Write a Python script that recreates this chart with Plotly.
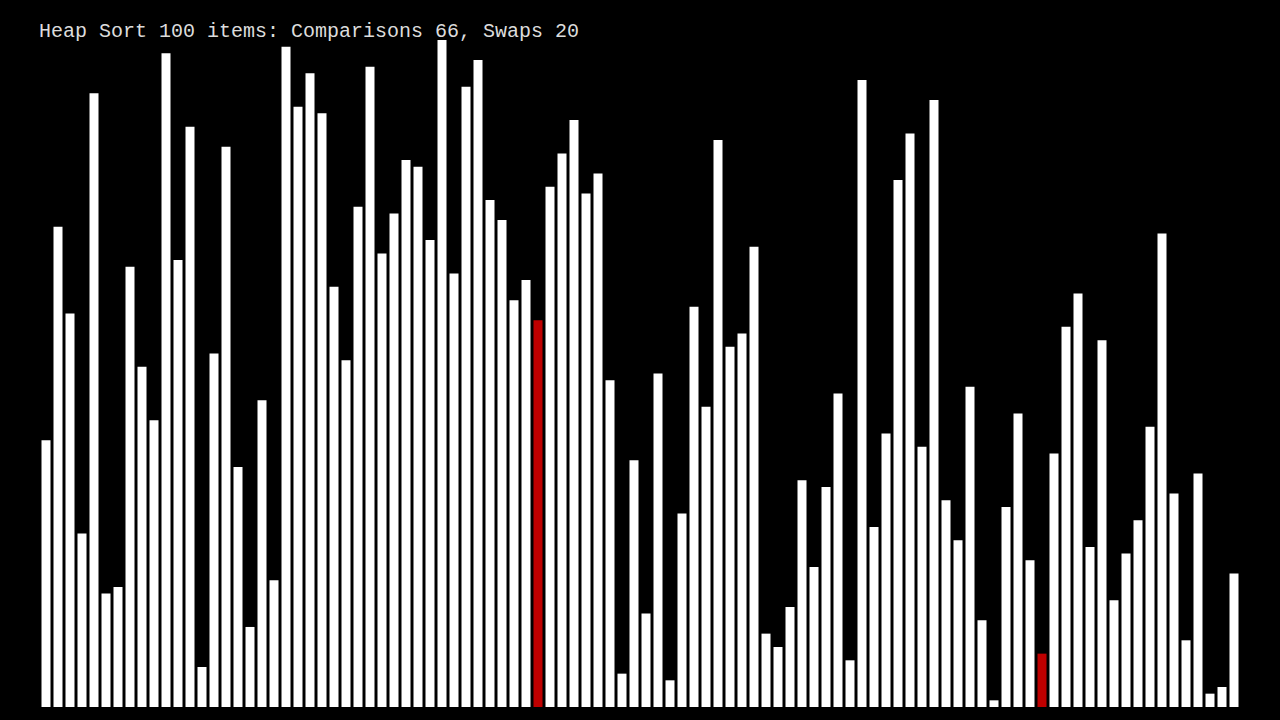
import plotly.graph_objects as go

title_text = "Heap Sort 100 items: Comparisons 66, Swaps 20"

values = [
    40, 72, 59, 26, 92, 17, 18, 66, 51, 43,
    98, 67, 87, 6, 53, 84, 36, 12, 46, 19,
    99, 90, 95, 89, 63, 52, 75, 96, 68, 74,
    82, 81, 70, 100, 65, 93, 97, 76, 73, 61,
    64, 58, 78, 83, 88, 77, 80, 49, 5, 37,
    14, 50, 4, 29, 60, 45, 85, 54, 56, 69,
    11, 9, 15, 34, 21, 33, 47, 7, 94, 27,
    41, 79, 86, 39, 91, 31, 25, 48, 13, 1,
    30, 44, 22, 8, 38, 57, 62, 24, 55, 16,
    23, 28, 42, 71, 32, 10, 35, 2, 3, 20,
]
positions = list(range(len(values)))
highlighted = [41, 83]

base_color = "#ffffff"
highlight_color = "#bf0000"
colors = [highlight_color if i in highlighted else base_color for i in positions]

fig = go.Figure(
    go.Bar(
        x=positions,
        y=values,
        marker=dict(color=colors, line=dict(width=0)),
        hoverinfo="skip",
    )
)

fig.update_layout(
    width=1280,
    height=720,
    paper_bgcolor="black",
    plot_bgcolor="black",
    margin=dict(l=40, r=40, t=40, b=13),
    bargap=0.25,
    showlegend=False,
    title=dict(
        text=title_text,
        font=dict(family="Liberation Mono, Courier New, monospace", size=20, color="#dcdcdc"),
        xref="container",
        yref="container",
        x=39 / 1280,
        y=1 - 30 / 720,
        xanchor="left",
        yanchor="middle",
    ),
    xaxis=dict(visible=False, range=[-0.5, 99.5]),
    yaxis=dict(visible=False, range=[0, 100]),
)

fig.write_html(
    "out.html",
    config={"displayModeBar": False},
    post_script="document.body.style.margin='0';document.body.style.background='black';",
)
